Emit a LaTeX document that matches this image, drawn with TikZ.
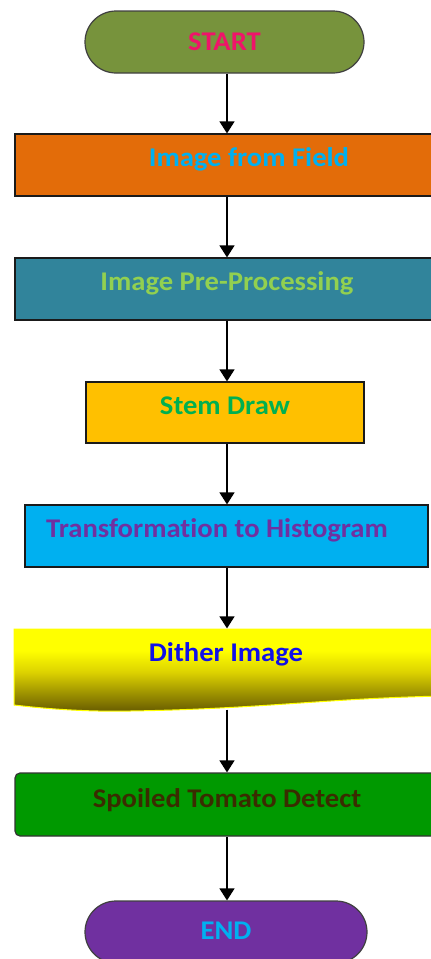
\documentclass[tikz,border=0pt]{standalone}
\usepackage{fontspec}
\usetikzlibrary{arrows.meta}
\newfontfamily\labfont{Carlito}[FakeStretch=1.06, Ligatures=NoCommon]
\definecolor{startfill}{HTML}{77933C}
\definecolor{starttext}{HTML}{F0136A}
\definecolor{fieldfill}{HTML}{E36C09}
\definecolor{cyantext}{HTML}{00B0F0}
\definecolor{prefill}{HTML}{31849B}
\definecolor{pretext}{HTML}{92D050}
\definecolor{stemfill}{HTML}{FFC000}
\definecolor{stemtext}{HTML}{00B050}
\definecolor{transfill}{HTML}{00B0F0}
\definecolor{purpletext}{HTML}{7030A0}
\definecolor{dithtop}{HTML}{FFFF00}
\definecolor{dithmid}{HTML}{DCD200}
\definecolor{dithbot}{HTML}{665A00}
\definecolor{dithtext}{HTML}{1010E8}
\definecolor{spoilfill}{HTML}{009900}
\definecolor{spoiltext}{HTML}{3A2C00}
\definecolor{endfill}{HTML}{7030A0}
\definecolor{edge}{HTML}{1A1A1A}
\pgfdeclareverticalshading{dithshade}{100bp}{color(0bp)=(dithbot); color(25bp)=(dithbot); color(49bp)=(dithmid); color(62bp)=(dithtop); color(100bp)=(dithtop)}
\tikzset{
  boxbase/.style={rectangle, draw=edge, line width=1.2pt, inner sep=0pt,
    font=\labfont\bfseries\fontsize{27}{31}\selectfont, text height=20pt},
  termbox/.style={boxbase, draw=black!75, rounded corners=31pt},
  conn/.style={line width=1.3pt, -{Triangle[width=15pt,length=12pt]}},
}
\begin{document}
\begin{tikzpicture}[x=1pt,y=-1pt]
\useasboundingbox (0,0) rectangle (431,959);
\clip (0,0) rectangle (431,959);
\coordinate (axis) at (227,0);
% dither shape
\path[shading=dithshade]
  (14,629) -- (445,629) -- (445,696)
  .. controls (330,698) and (260,709) .. (130,711)
  .. controls (80,712) and (40,708) .. (14,705) -- cycle;
\draw[dithtop, line width=1pt]
  (14,629) -- (445,629) -- (445,696)
  .. controls (330,698) and (260,709) .. (130,711)
  .. controls (80,712) and (40,708) .. (14,705) -- cycle;
\node[termbox, fill=startfill, text=starttext, minimum width=279pt, minimum height=62pt, text depth=2.6pt] (start) at (224.5,42) {START};
\node[boxbase, fill=fieldfill, text=cyantext, minimum width=468pt, minimum height=62pt, text depth=16.6pt] (field) at (249,165) {Image from Field};
\node[boxbase, fill=prefill, text=pretext, minimum width=424pt, minimum height=62pt, text depth=16.6pt] (pre) at (227,289) {Image Pre-Processing};
\node[boxbase, fill=stemfill, text=stemtext, minimum width=278pt, minimum height=61pt, text depth=15.6pt] (stem) at (225,412.5) {Stem Draw};
\node[boxbase, fill=transfill, text=purpletext, minimum width=403pt, minimum height=62pt, text depth=16.6pt] (trans) at (226.5,536) {\hspace*{-19pt}Transformation to Histogram};
\node[boxbase, draw=none, text=dithtext, minimum width=422pt, minimum height=76pt, text depth=30.6pt] (dither) at (226,667) {Dither Image};
\node[boxbase, draw=black!80, rounded corners=5pt, fill=spoilfill, text=spoiltext, minimum width=424pt, minimum height=63pt, text depth=13.6pt] (spoil) at (227,804.5) {Spoiled Tomato Detect};
\node[termbox, fill=endfill, text=cyantext, minimum width=282pt, minimum height=62pt, text depth=4.6pt] (end) at (226,932) {END};
% connectors
\draw[conn] (start.south -| axis) -- (field.north -| axis);
\draw[conn] (field.south -| axis) -- (pre.north -| axis);
\draw[conn] (pre.south -| axis) -- (stem.north -| axis);
\draw[conn] (stem.south -| axis) -- (trans.north -| axis);
\draw[conn] (trans.south -| axis) -- (dither.north -| axis);
\draw[conn] ([yshift=-4pt]dither.south -| axis) -- (spoil.north -| axis);
\draw[conn] (spoil.south -| axis) -- (end.north -| axis);
\end{tikzpicture}
\end{document}
